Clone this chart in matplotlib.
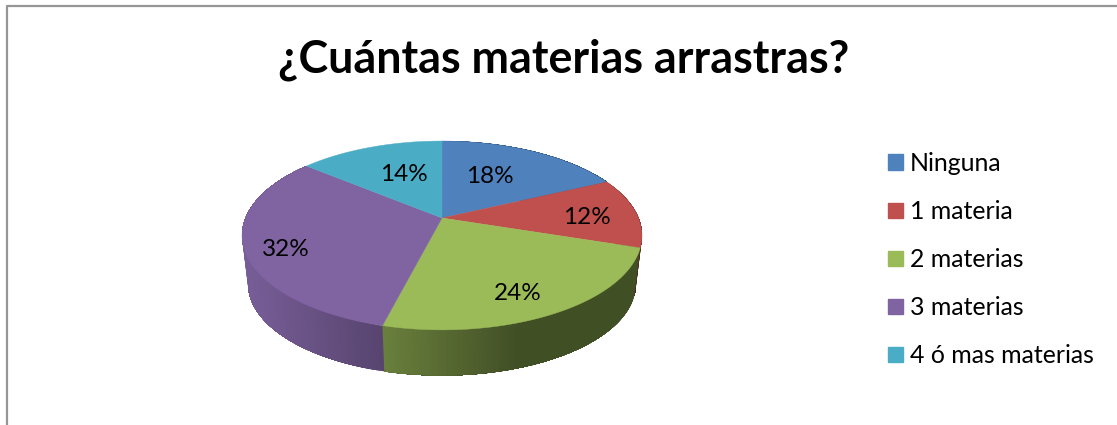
import matplotlib
matplotlib.use("Agg")
import matplotlib.pyplot as plt
from matplotlib.patches import Patch, Polygon
import numpy as np

categories = ["Ninguna", "1 materia", "2 materias", "3 materias", "4 ó mas materias"]
percents = [18, 12, 24, 32, 14]
colors = ["#4f81bd", "#c0504d", "#9bbb59", "#8064a2", "#4bacc6"]
label_xy = [(490, 176), (587, 217), (518, 294), (286, 249), (404, 174)]


def project(theta, r=1.0, scale=1.0, cy=218.0):
    """Perspective view of a point on the pie disc, angle clockwise from 12 o'clock."""
    u = r * np.sin(theta)
    v = r * np.cos(theta)
    w = 1 + 0.185 * v
    return 442 + scale * 196.5 * u / w, cy - scale * 91.2 * v / w


def side_shade(x):
    return np.interp(x, [248, 384, 520, 640], [0.93, 0.68, 0.42, 0.42])


fig = plt.figure(figsize=(11.17, 4.25), dpi=100)
ax = fig.add_axes([0, 0, 1, 1])
ax.set_xlim(0, 1117)
ax.set_ylim(425, 0)
ax.axis("off")

ax.plot([7, 7, 1117], [425, 5.5, 5.5], color="#969696", linewidth=1.6, zorder=1)

edges = np.radians(np.concatenate([[0], np.cumsum(percents)]) * 3.6)

# side wall first, the top face covers what is behind it
# each strip runs to the end of its slice so the next one paints over it, no seams
for i, col in enumerate(colors):
    angles = np.arange(edges[i], edges[i + 1], np.radians(1.0))
    base = np.array(matplotlib.colors.to_rgb(col))
    for a0 in angles:
        if np.cos(a0) > 0.5 and np.cos(edges[i + 1]) > 0.5:
            continue
        arc = np.linspace(a0, edges[i + 1], 60)
        xt, yt = project(arc)
        xb, yb = project(arc[::-1], scale=0.97, cy=267.0)
        x_mid = project(a0 + np.radians(0.5))[0]
        shade = side_shade(x_mid)
        ax.add_patch(Polygon(np.column_stack([np.r_[xt, xb], np.r_[yt, yb]]),
                             facecolor=base * shade, edgecolor="none", zorder=2))

for i, col in enumerate(colors):
    angles = np.linspace(edges[i], edges[i + 1], 120)
    x, y = project(angles)
    x0, y0 = project(0.0, r=0.0)
    ax.add_patch(Polygon(np.column_stack([np.r_[x0, x], np.r_[y0, y]]),
                         facecolor=col, edgecolor=col, linewidth=0.3, zorder=3))

font = "Lato"
for pct, (lx, ly) in zip(percents, label_xy):
    ax.text(lx, ly, f"{pct}%", ha="center", va="center", fontsize=17.5,
            family=font, color="black", zorder=4)

ax.text(563.5, 59.5, "¿Cuántas materias arrastras?", ha="center", va="center",
        fontsize=32.3, fontweight="bold", family=font, color="black")

handles = [Patch(facecolor=c, edgecolor=c, label=n) for n, c in zip(categories, colors)]
ax.legend(handles=handles, loc="upper left", bbox_to_anchor=(888 / 1117, 1 - 152 / 425),
          frameon=False, prop={"family": font, "size": 17.9}, handlelength=0.59,
          handleheight=0.59, handletextpad=0.29, labelspacing=1.01,
          borderpad=0, borderaxespad=0)

plt.savefig("out.png", dpi=100)
plt.close()
